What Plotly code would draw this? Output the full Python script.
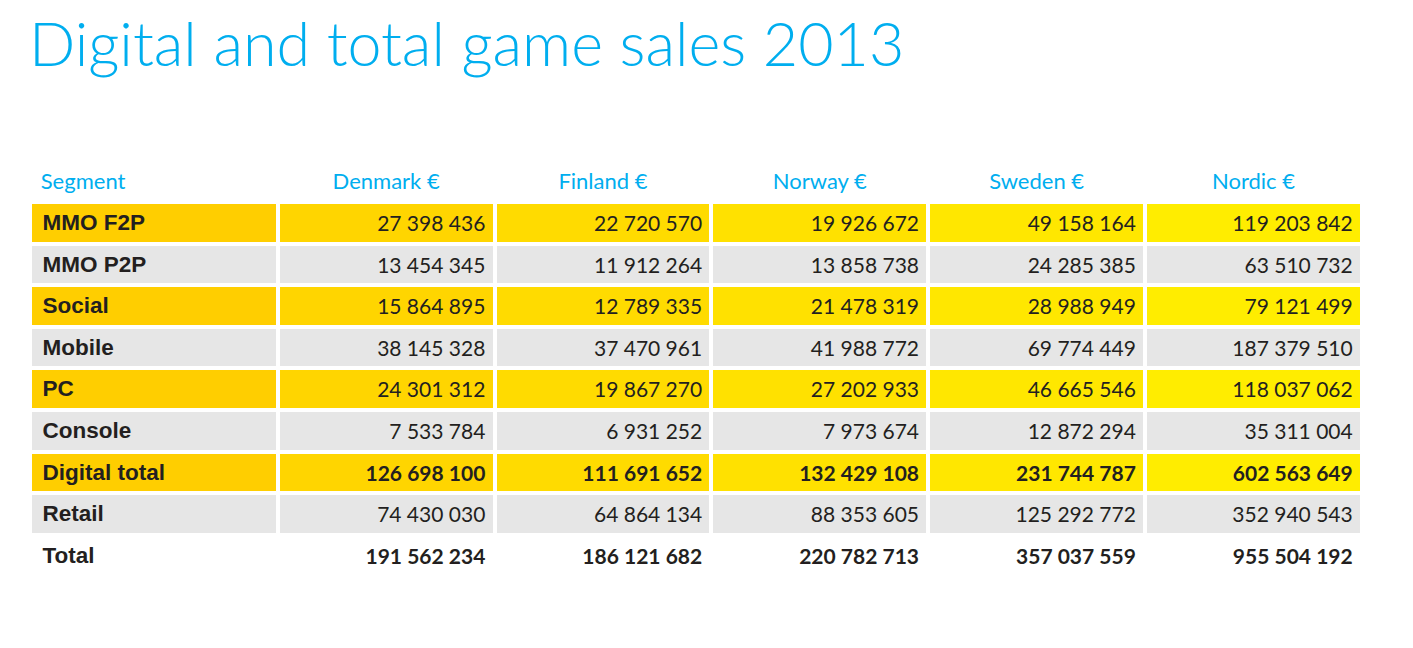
import plotly.graph_objects as go

# ---- data ----
title = "Digital and total game sales 2013"
columns = ["Segment", "Denmark €", "Finland €", "Norway €", "Sweden €", "Nordic €"]
segments = ["MMO F2P", "MMO P2P", "Social", "Mobile", "PC", "Console",
            "Digital total", "Retail", "Total"]
denmark = [27398436, 13454345, 15864895, 38145328, 24301312, 7533784, 126698100, 74430030, 191562234]
finland = [22720570, 11912264, 12789335, 37470961, 19867270, 6931252, 111691652, 64864134, 186121682]
norway = [19926672, 13858738, 21478319, 41988772, 27202933, 7973674, 132429108, 88353605, 220782713]
sweden = [49158164, 24285385, 28988949, 69774449, 46665546, 12872294, 231744787, 125292772, 357037559]
nordic = [119203842, 63510732, 79121499, 187379510, 118037062, 35311004, 602563649, 352940543, 955504192]
row_style = ["yellow", "gray", "yellow", "gray", "yellow", "gray", "yellow", "gray", "white"]
bold_rows = ["Digital total", "Total"]

# ---- styling ----
BLUE = "#00AEEF"
TEXT = "#231F20"
GRAY = "#E6E6E6"
yellow_by_col = ["#FFCE00", "#FFD500", "#FFDB00", "#FFE100", "#FFE700", "#FFED00"]
FONT = "Lato"
LABEL_FONT = "Liberation Sans"
TS = "\u2009"  # thin space
HS = "\u200a"  # hair space


def fmt(v):
    return f"{v:,}".replace(",", " ")


value_cols = [denmark, finland, norway, sweden, nordic]
cells_text = [[f"{TS}<b>{s}</b>" for s in segments]]
for col in value_cols:
    cells_text.append([
        (f"<b>{fmt(v)}</b>{HS}" if seg in bold_rows else f"<span>{fmt(v)}</span>{HS}")
        for v, seg in zip(col, segments)
    ])

fills = []
for ci in range(len(columns)):
    colfill = []
    for st in row_style:
        if st == "yellow":
            colfill.append(yellow_by_col[ci])
        elif st == "gray":
            colfill.append(GRAY)
        else:
            colfill.append("white")
    fills.append(colfill)

fig = go.Figure(go.Table(
    domain=dict(x=[22 / 1413, 1354 / 1413], y=[0, 1 - 151 / 648]),
    columnwidth=[248, 217, 217, 217, 217, 217],
    header=dict(
        values=[f"{TS}<span>{columns[0]}</span>"] + [f"<span>{c}</span>" for c in columns[1:]],
        align=["left"] + ["center"] * 5,
        fill=dict(color="white"),
        line=dict(color="white", width=4),
        font=dict(family=FONT, size=22, color=BLUE),
        height=42,
    ),
    cells=dict(
        values=cells_text,
        align=["left"] + ["right"] * 5,
        fill=dict(color=fills),
        line=dict(color="white", width=4),
        font=dict(family=[LABEL_FONT] + [FONT] * 5,
                  size=[22.5, 21, 21, 21, 21, 21], color=TEXT),
        height=41.6,
    ),
))

fig.add_annotation(
    text=title, xref="paper", yref="paper", x=19 / 1413, y=1 - 34 / 648,
    xanchor="left", yanchor="middle", showarrow=False,
    font=dict(family="Lato", size=61, color=BLUE, weight=300),
)

fig.update_layout(
    width=1413, height=648,
    margin=dict(l=0, r=0, t=0, b=0),
    paper_bgcolor="white", plot_bgcolor="white",
)

fig.write_html("out.html")
